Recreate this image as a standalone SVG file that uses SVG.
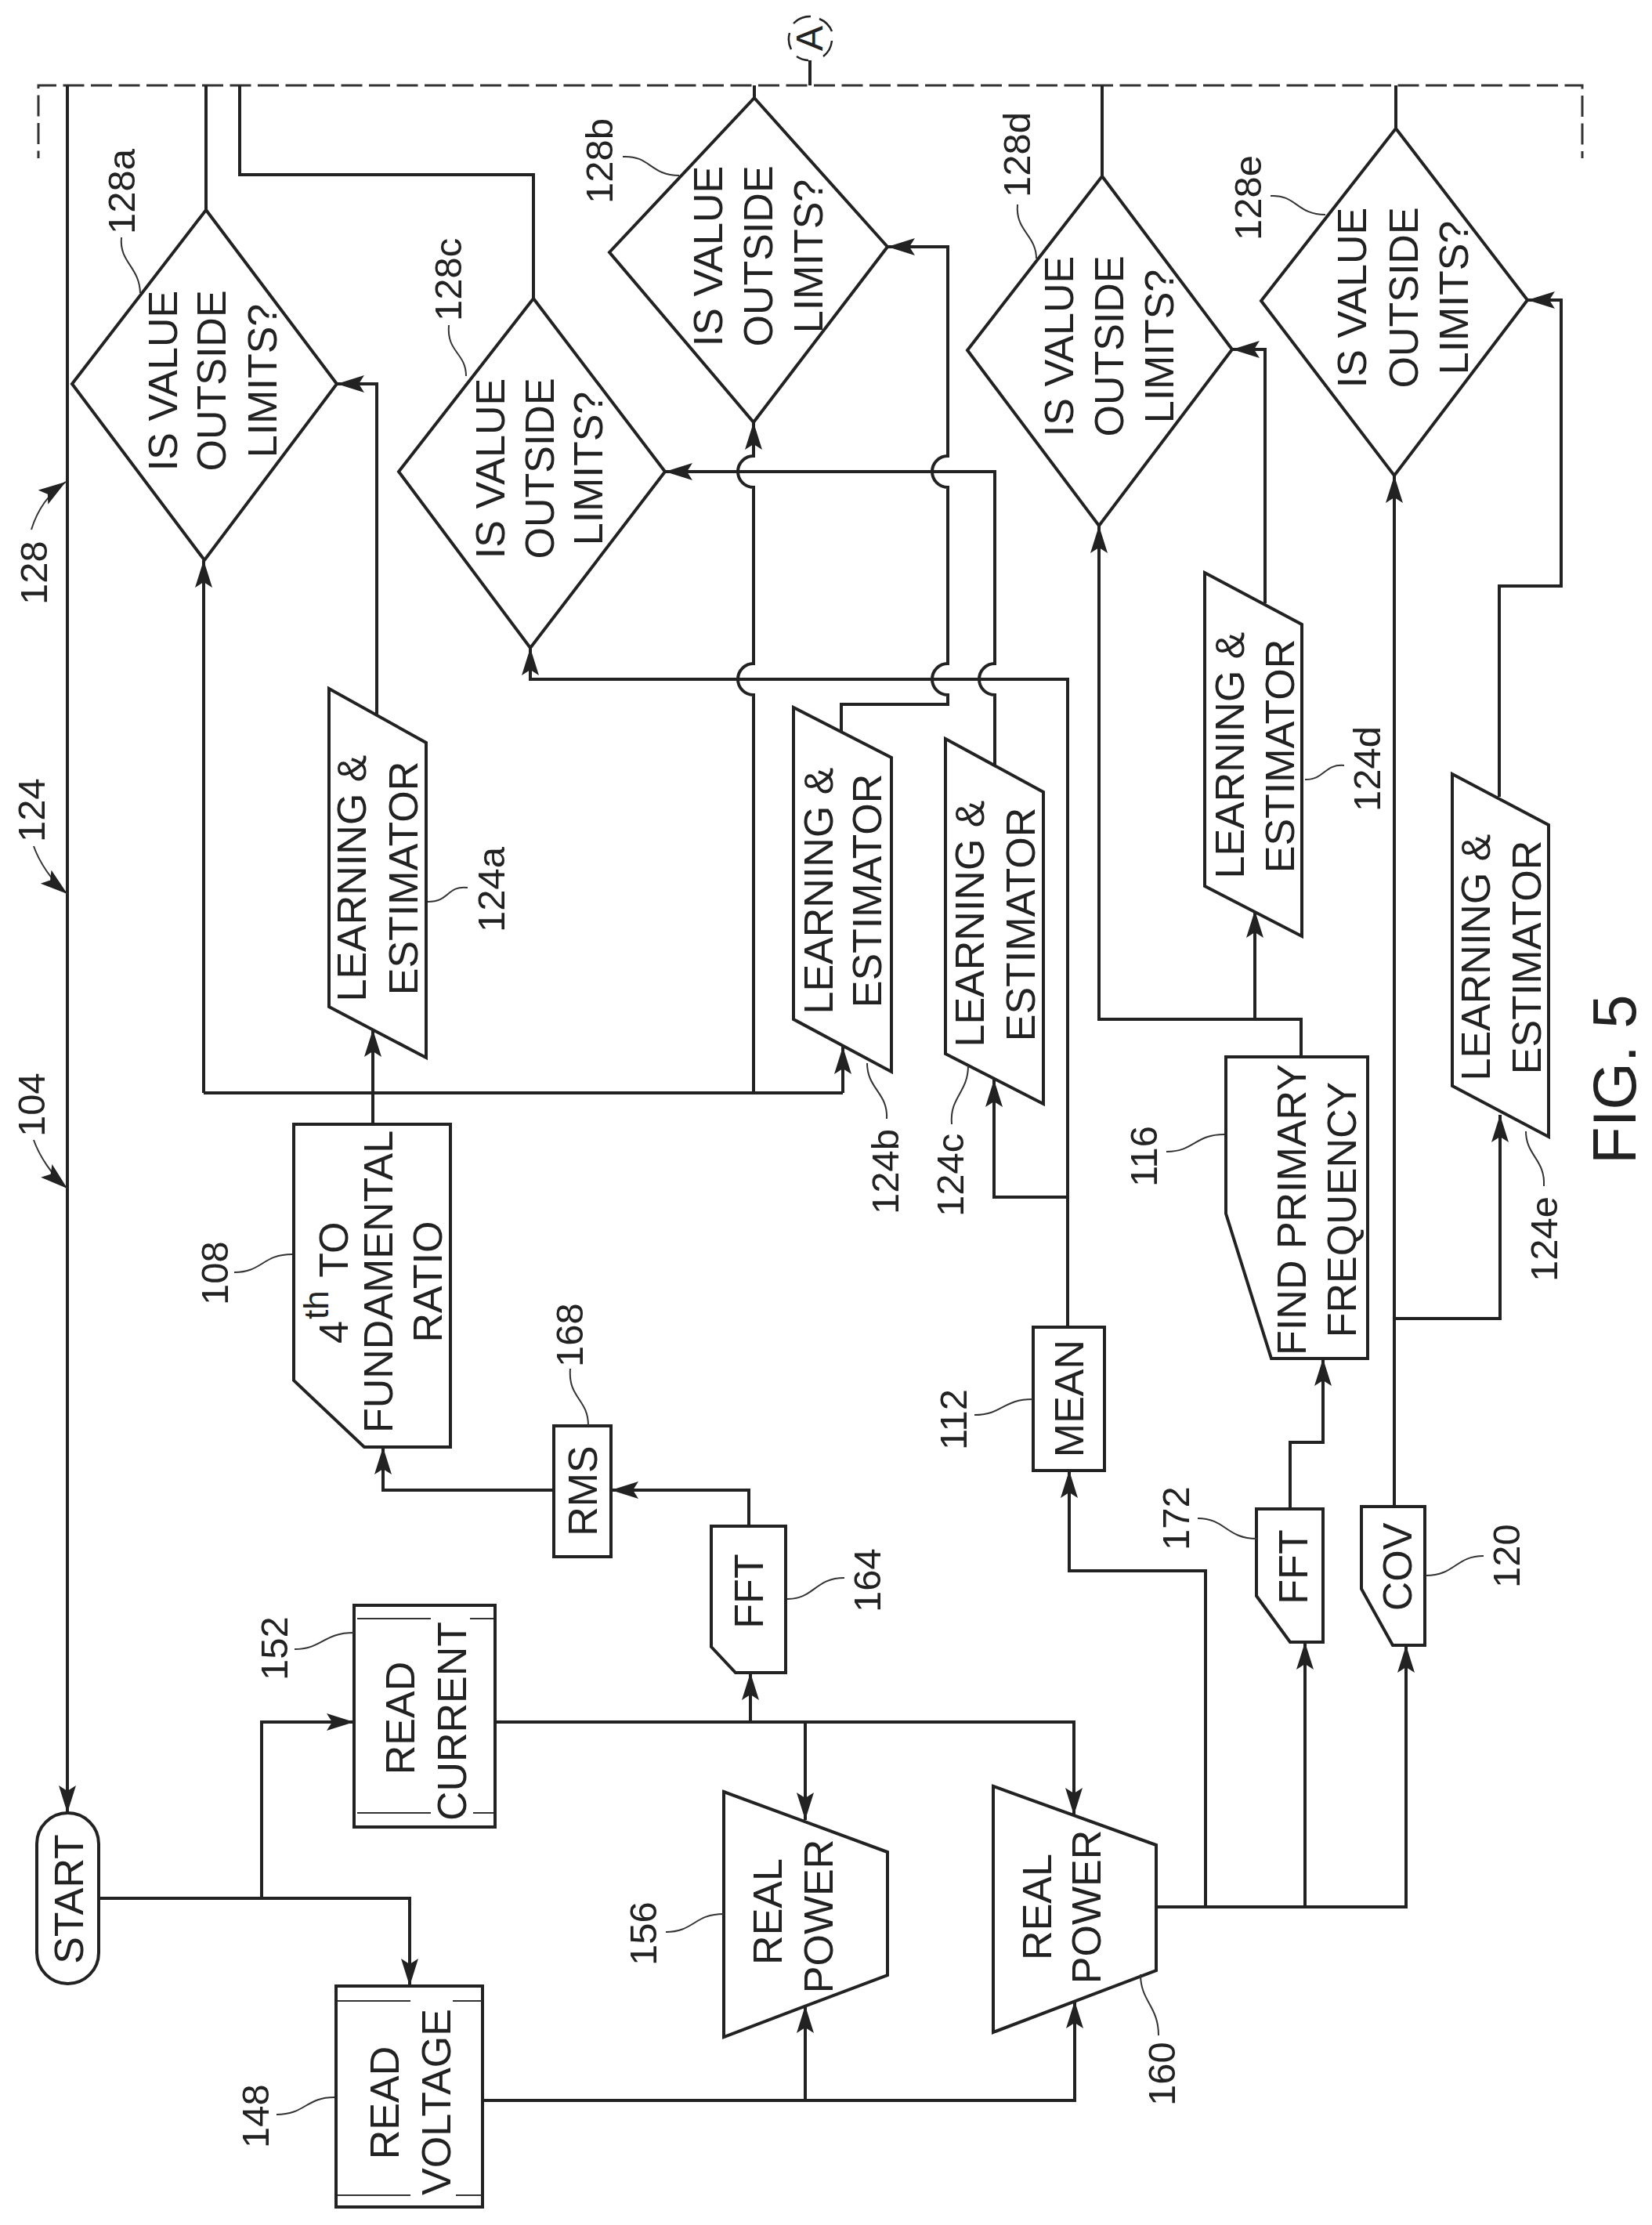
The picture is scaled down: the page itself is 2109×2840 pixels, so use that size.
<svg xmlns="http://www.w3.org/2000/svg" width="2109" height="2840" viewBox="0 0 2109 2840">
<style>
text{font-family:"Liberation Sans",Arial,sans-serif;fill:#222}
.t{font-size:52px;text-anchor:middle}
.l{font-size:49px}
.f{font-size:78px}
.s{fill:#fff;stroke:#222;stroke-width:4}
.w{fill:none;stroke:#222;stroke-width:4;stroke-linejoin:miter}
.a{marker-end:url(#ah)}
.n{fill:none;stroke:#333;stroke-width:2}
.d{fill:none;stroke:#333;stroke-width:3;stroke-dasharray:27 8.5;stroke-dashoffset:17.5}
.h{font-size:44px}
.c{fill:none;stroke:#222;stroke-width:2.5}
</style>
<defs>
<marker id="ah" markerUnits="userSpaceOnUse" markerWidth="40" markerHeight="24" refX="35" refY="11" orient="auto">
<path d="M35,11 L0,0 L7,11 L0,22 Z" fill="#222"/>
</marker>
</defs>
<g id="connectors">
<path class="d" d="M49,202 V109 H2020 V202"/>
<path class="w" d="M1034,77 V109"/>
<path class="w a" d="M86,109 V2314"/>
<path class="w" d="M263,268 V109"/>
<path class="w" d="M306,109 V223 H681 V381"/>
<path class="w" d="M963,125 V109"/>
<path class="w" d="M1407,225 V109"/>
<path class="w" d="M1782,164 V109"/>
<path class="w a" d="M481,915 V490 H430"/>
<path class="w a" d="M476,1435 V1314"/>
<path class="w a" d="M260,1395 V715"/>
<path class="w" d="M260,1395 H1076"/>
<path class="w a" d="M1076,1395 V1336"/>
<path class="w a" d="M962,1395 V887 A20,20 0 0 1 962,847 V622 A20,20 0 0 1 962,582 V539"/>
<path class="w a" d="M1270,977 V887 A20,20 0 0 1 1270,847 V602 H849"/>
<path class="w a" d="M1074,934 V899 H1210 V887 A20,20 0 0 1 1210,847 V622 A20,20 0 0 1 1210,582 V315 H1133"/>
<path class="w a" d="M1363,1694 V867 H677 V827"/>
<path class="w a" d="M1363,1528 H1269 V1378"/>
<path class="w a" d="M1661,1349 V1301 H1403 V671"/>
<path class="w a" d="M1602,1301 V1162"/>
<path class="w a" d="M1615,770 V446 H1573"/>
<path class="w a" d="M1647,1926 V1841 H1689 V1734"/>
<path class="w a" d="M1780,1923 V607"/>
<path class="w a" d="M1780,1683 H1915 V1423"/>
<path class="w a" d="M1914,1017 V748 H1993 V383 H1950"/>
<path class="w a" d="M956,1948 V1902 H780"/>
<path class="w a" d="M707,1902 H489 V1847"/>
<path class="w a" d="M126,2423 H523 V2535"/>
<path class="w a" d="M334,2423 V2198 H452"/>
<path class="w a" d="M616,2681 H1372 V2554"/>
<path class="w a" d="M1028,2681 V2560"/>
<path class="w a" d="M632,2198 H1371 V2317"/>
<path class="w a" d="M958,2198 V2135"/>
<path class="w a" d="M1028,2198 V2323"/>
<path class="w a" d="M1476,2434 H1795 V2100"/>
<path class="w a" d="M1666,2434 V2096"/>
<path class="w a" d="M1539,2434 V2005 H1365 V1877"/>
</g>
<g id="connector-A">
<path class="c" d="M1013,30 A29,29 0 0 1 1035,21 M1046,24 A29,29 0 0 1 1062,40 M1062,52 A29,29 0 0 1 1051,72 M1032,77 A29,29 0 0 1 1017,72 M1010,63 A29,29 0 0 1 1008,42"/>
<text style="font-size:48px;text-anchor:middle" transform="translate(1050,49) rotate(-90)">A</text>
</g>
<g id="ref-128"><text class="l" transform="translate(60,772) rotate(-90)">128</text><path class="n a" d="M40,676 C48,650 62,630 84,615"/></g>
<g id="ref-124"><text class="l" transform="translate(57,1075) rotate(-90)">124</text><path class="n a" d="M43,1080 C50,1100 66,1125 86,1141"/></g>
<g id="ref-104"><text class="l" transform="translate(57,1451) rotate(-90)">104</text><path class="n a" d="M43,1455 C50,1475 66,1500 86,1517"/></g>
<g id="d128a"><polygon class="s" points="263,268 430,490 261,715 92,490"/>
<text class="t" transform="translate(226,486) rotate(-90)">IS VALUE</text><text class="t" transform="translate(288,486) rotate(-90)">OUTSIDE</text><text class="t" transform="translate(353,486) rotate(-90)">LIMITS?</text>
<text class="l" transform="translate(172,299) rotate(-90)">128a</text><path class="n" d="M155,303 C152,335 178,340 179,374"/></g>
<g id="d128c"><polygon class="s" points="681,381 849,602 677,827 509,602"/>
<text class="t" transform="translate(644,598) rotate(-90)">IS VALUE</text><text class="t" transform="translate(707,598) rotate(-90)">OUTSIDE</text><text class="t" transform="translate(769,598) rotate(-90)">LIMITS?</text>
<text class="l" transform="translate(589,410) rotate(-90)">128c</text><path class="n" d="M573,415 C570,450 595,450 595,480"/></g>
<g id="d128b"><polygon class="s" points="963,125 1133,315 962,539 778,322"/>
<text class="t" transform="translate(922,327) rotate(-90)">IS VALUE</text><text class="t" transform="translate(986,327) rotate(-90)">OUTSIDE</text><text class="t" transform="translate(1050,327) rotate(-90)">LIMITS?</text>
<text class="l" transform="translate(782,260) rotate(-90)">128b</text><path class="n" d="M795,200 C830,198 830,224 867,224"/></g>
<g id="d128d"><polygon class="s" points="1407,225 1573,446 1403,671 1235,447"/>
<text class="t" transform="translate(1370,442) rotate(-90)">IS VALUE</text><text class="t" transform="translate(1434,442) rotate(-90)">OUTSIDE</text><text class="t" transform="translate(1498,442) rotate(-90)">LIMITS?</text>
<text class="l" transform="translate(1315,252) rotate(-90)">128d</text><path class="n" d="M1299,261 C1296,295 1323,300 1323,330"/></g>
<g id="d128e"><polygon class="s" points="1782,164 1950,383 1780,607 1610,384"/>
<text class="t" transform="translate(1744,380) rotate(-90)">IS VALUE</text><text class="t" transform="translate(1810,380) rotate(-90)">OUTSIDE</text><text class="t" transform="translate(1874,380) rotate(-90)">LIMITS?</text>
<text class="l" transform="translate(1610,307) rotate(-90)">128e</text><path class="n" d="M1622,250 C1655,248 1655,274 1692,274"/></g>
<g id="n124a"><polygon class="s" points="420,879 544,948 544,1350 420,1285"/>
<text class="t" transform="translate(467,1121) rotate(-90)">LEARNING &amp;</text><text class="t" transform="translate(533,1121) rotate(-90)">ESTIMATOR</text>
<text class="l" transform="translate(644,1190) rotate(-90)">124a</text><path class="n" d="M597,1133 C570,1130 575,1151 546,1151"/></g>
<g id="n124b"><polygon class="s" points="1013,903 1138,967 1138,1368 1013,1301"/>
<text class="t" transform="translate(1063,1137) rotate(-90)">LEARNING &amp;</text><text class="t" transform="translate(1125,1137) rotate(-90)">ESTIMATOR</text>
<text class="l" transform="translate(1147,1550) rotate(-90)">124b</text><path class="n" d="M1132,1428 C1134,1395 1107,1390 1107,1357"/></g>
<g id="n124c"><polygon class="s" points="1207,943 1332,1011 1332,1409 1207,1345"/>
<text class="t" transform="translate(1256,1179) rotate(-90)">LEARNING &amp;</text><text class="t" transform="translate(1321,1180) rotate(-90)">ESTIMATOR</text>
<text class="l" transform="translate(1230,1553) rotate(-90)">124c</text><path class="n" d="M1215,1435 C1212,1400 1236,1395 1236,1360"/></g>
<g id="n124d"><polygon class="s" points="1538,731 1662,797 1662,1195 1538,1131"/>
<text class="t" transform="translate(1588,964) rotate(-90)">LEARNING &amp;</text><text class="t" transform="translate(1652,965) rotate(-90)">ESTIMATOR</text>
<text class="l" transform="translate(1762,1036) rotate(-90)">124d</text><path class="n" d="M1716,977 C1690,975 1692,995 1666,995"/></g>
<g id="n124e"><polygon class="s" points="1854,988 1977,1053 1977,1451 1854,1386"/>
<text class="t" transform="translate(1902,1222) rotate(-90)">LEARNING &amp;</text><text class="t" transform="translate(1967,1222) rotate(-90)">ESTIMATOR</text>
<text class="l" transform="translate(1988,1636) rotate(-90)">124e</text><path class="n" d="M1971,1514 C1973,1480 1948,1475 1948,1444"/></g>
<g id="n108"><polygon class="s" points="375,1435 575,1435 575,1847 465,1847 375,1762"/>
<text class="t" style="text-anchor:start" transform="translate(444,1715) rotate(-90)">4<tspan class="h" dx="2" dy="-25">th</tspan><tspan dx="3" dy="25"> TO</tspan></text><text class="t" transform="translate(501,1636) rotate(-90)">FUNDAMENTAL</text><text class="t" transform="translate(564,1636) rotate(-90)">RATIO</text>
<text class="l" transform="translate(291,1666) rotate(-90)">108</text><path class="n" d="M299,1624 C335,1624 335,1601 373,1601"/></g>
<g id="n168"><rect class="s" x="707" y="1820" width="73" height="167"/>
<text class="t" transform="translate(762,1903) rotate(-90)">RMS</text>
<text class="l" transform="translate(744,1745) rotate(-90)">168</text><path class="n" d="M728,1747 C725,1785 751,1785 751,1820"/></g>
<g id="n164"><polygon class="s" points="908,1948 1003,1948 1003,2135 939,2135 908,2102"/>
<text class="t" transform="translate(974,2031) rotate(-90)">FFT</text>
<text class="l" transform="translate(1124,2058) rotate(-90)">164</text><path class="n" d="M1005,2041 C1040,2041 1040,2014 1078,2014"/></g>
<g id="n112"><rect class="s" x="1319" y="1694" width="91" height="183"/>
<text class="t" transform="translate(1383,1785) rotate(-90)">MEAN</text>
<text class="l" transform="translate(1234,1851) rotate(-90)">112</text><path class="n" d="M1244,1806 C1280,1806 1280,1786 1318,1786"/></g>
<g id="n116"><polygon class="s" points="1565,1349 1746,1349 1746,1734 1623,1734 1565,1549"/>
<text class="t" transform="translate(1667,1544) rotate(-90)">FIND PRIMARY</text><text class="t" transform="translate(1731,1544) rotate(-90)">FREQUENCY</text>
<text class="l" transform="translate(1477,1515) rotate(-90)">116</text><path class="n" d="M1489,1470 C1525,1470 1525,1448 1563,1448"/></g>
<g id="n172"><polygon class="s" points="1604,1926 1689,1926 1689,2096 1647,2096 1604,2037"/>
<text class="t" transform="translate(1669,2000) rotate(-90)">FFT</text>
<text class="l" transform="translate(1518,1979) rotate(-90)">172</text><path class="n" d="M1529,1938 C1565,1938 1565,1964 1605,1964"/></g>
<g id="n120"><polygon class="s" points="1738,1923 1819,1923 1819,2100 1778,2100 1738,2028"/>
<text class="t" transform="translate(1802,2000) rotate(-90)">COV</text>
<text class="l" transform="translate(1940,2027) rotate(-90)">120</text><path class="n" d="M1894,1986 C1858,1986 1858,2011 1820,2011"/></g>
<g id="start"><rect class="s" x="47" y="2314" width="79" height="218" rx="39.5"/>
<text class="t" transform="translate(106,2424) rotate(-90)">START</text></g>
<g id="n152"><rect class="s" x="452" y="2049" width="180" height="283"/>
<path class="n" d="M456,2066 H550 M600,2066 H630 M456,2314 H550 M604,2314 H630"/>
<text class="t" transform="translate(529,2193) rotate(-90)">READ</text><text class="t" transform="translate(595,2197) rotate(-90)">CURRENT</text>
<text class="l" transform="translate(367,2145) rotate(-90)">152</text><path class="n" d="M376,2105 C412,2105 412,2084 452,2084"/></g>
<g id="n148"><rect class="s" x="429" y="2535" width="187" height="282"/>
<path class="n" d="M431,2554 H524 M578,2554 H615 M431,2802 H524 M582,2802 H615"/>
<text class="t" transform="translate(509,2684) rotate(-90)">READ</text><text class="t" transform="translate(575,2683) rotate(-90)">VOLTAGE</text>
<text class="l" transform="translate(343,2742) rotate(-90)">148</text><path class="n" d="M353,2699 C390,2699 390,2677 427,2677"/></g>
<g id="n156"><polygon class="s" points="924,2287 1133,2364 1133,2521 924,2600"/>
<text class="t" transform="translate(998,2440) rotate(-90)">REAL</text><text class="t" transform="translate(1063,2446) rotate(-90)">POWER</text>
<text class="l" transform="translate(838,2509) rotate(-90)">156</text><path class="n" d="M850,2466 C886,2466 886,2443 924,2443"/></g>
<g id="n160"><polygon class="s" points="1268,2280 1476,2355 1476,2515 1268,2594"/>
<text class="t" transform="translate(1342,2434) rotate(-90)">REAL</text><text class="t" transform="translate(1405,2434) rotate(-90)">POWER</text>
<text class="l" transform="translate(1500,2688) rotate(-90)">160</text><path class="n" d="M1479,2598 C1479,2560 1456,2555 1456,2520"/></g>
<text class="f" transform="translate(2088,1486) rotate(-90)">FIG. 5</text>
</svg>
